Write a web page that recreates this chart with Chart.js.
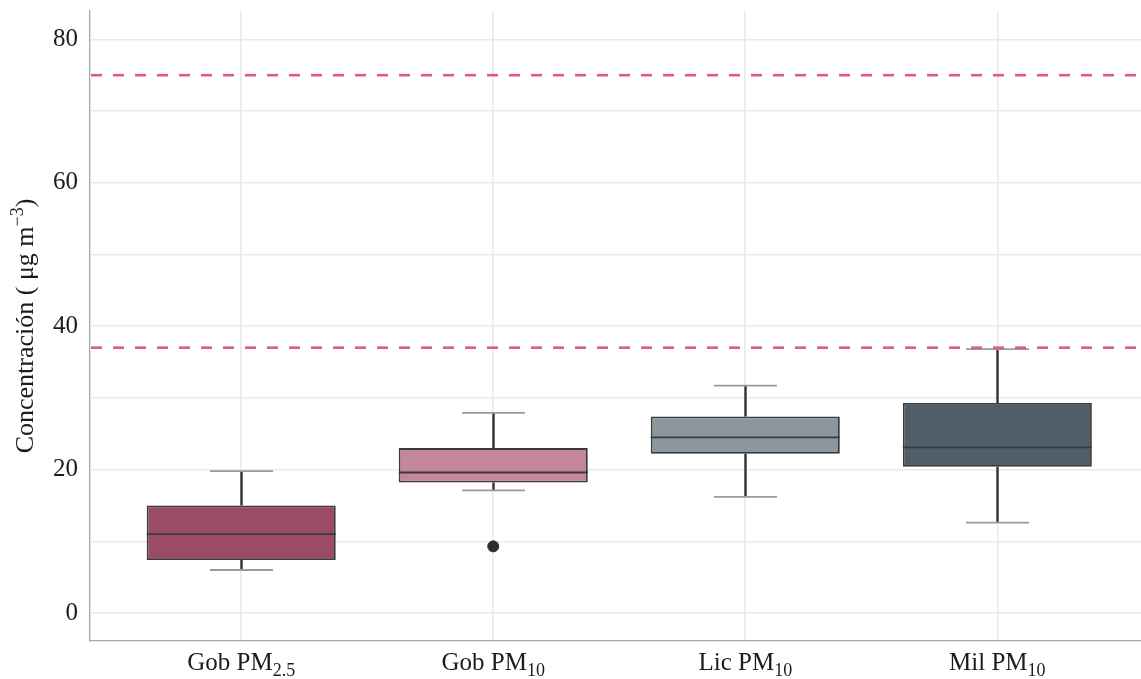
<!DOCTYPE html>
<html>
<head>
<meta charset="utf-8">
<script src="https://cdn.jsdelivr.net/npm/chart.js@4.4.0/dist/chart.umd.min.js"></script>
<style>
  html, body { margin: 0; padding: 0; background: #ffffff; overflow: hidden; }
  #wrap { width: 1141px; height: 679px; }
  #c { display: block; }
</style>
</head>
<body>
<div id="wrap"><canvas id="c" width="1141" height="679"></canvas></div>
<script>
// Station / pollutant groups
const sites = ['Gob', 'Gob', 'Lic', 'Mil'];
const fractions = ['2.5', '10', '10', '10'];

// Box-plot summaries (µg m⁻³)
const whiskerLow  = [6.0, 17.1, 16.2, 12.6];
const quartile1   = [7.4, 18.2, 22.2, 20.4];
const medians     = [11.0, 19.6, 24.5, 23.1];
const quartile3   = [15.0, 23.0, 27.4, 29.3];
const whiskerHigh = [19.8, 27.9, 31.7, 36.8];

// Points beyond the whiskers: group index and value
const outlierGroups = [1];
const outlierValues = [9.3];

// Guideline levels drawn as dashed lines
const guideLevels = [75, 37];

// Y grid values and which of them carry a label
const yGridValues = [0, 10, 20, 30, 40, 50, 60, 70, 80];
const yLabelValues = [0, 20, 40, 60, 80];

const boxColors = ['#9b4a68', '#c4869b', '#8b979e', '#505e69'];

const SERIF = '"Liberation Serif", "Times New Roman", serif';
const TEXT = '#1c1c1c';
const MAIN_PX = 25;
const SUB_PX = 18;

// Whiskers, caps and medians drawn on the chart's own scales
const boxParts = {
  id: 'boxParts',
  beforeDatasetsDraw(chart) {
    const { ctx, scales: { x, y } } = chart;
    const capHalf = (x.getPixelForValue(1) - x.getPixelForValue(0)) * 0.125;
    ctx.save();
    sites.forEach((_, i) => {
      const cx = Math.round(x.getPixelForValue(i)) + 0.5;
      // whisker stems
      ctx.strokeStyle = '#333333';
      ctx.lineWidth = 2.4;
      ctx.beginPath();
      ctx.moveTo(cx, y.getPixelForValue(whiskerLow[i]));
      ctx.lineTo(cx, y.getPixelForValue(quartile1[i]));
      ctx.moveTo(cx, y.getPixelForValue(quartile3[i]));
      ctx.lineTo(cx, y.getPixelForValue(whiskerHigh[i]));
      ctx.stroke();
      // caps
      ctx.strokeStyle = '#9a9a9a';
      ctx.lineWidth = 1.8;
      ctx.beginPath();
      [whiskerLow[i], whiskerHigh[i]].forEach(v => {
        const py = y.getPixelForValue(v);
        ctx.moveTo(cx - capHalf, py);
        ctx.lineTo(cx + capHalf, py);
      });
      ctx.stroke();
    });
    ctx.restore();
  },
  afterDatasetsDraw(chart) {
    const { ctx, scales: { y }, chartArea } = chart;
    const boxMeta = chart.getDatasetMeta(0);
    ctx.save();
    // medians
    ctx.strokeStyle = '#3a3a3a';
    ctx.lineWidth = 1.9;
    boxMeta.data.forEach((bar, i) => {
      const half = bar.width / 2;
      const py = y.getPixelForValue(medians[i]);
      ctx.beginPath();
      ctx.moveTo(bar.x - half, py);
      ctx.lineTo(bar.x + half, py);
      ctx.stroke();
    });
    // guideline levels
    ctx.strokeStyle = '#e05c7a';
    ctx.lineWidth = 2.6;
    ctx.setLineDash([11, 11]);
    guideLevels.forEach(v => {
      const py = y.getPixelForValue(v);
      ctx.beginPath();
      ctx.moveTo(chartArea.left + 1, py);
      ctx.lineTo(chartArea.right, py);
      ctx.stroke();
    });
    ctx.restore();
  },
  afterDraw(chart) {
    const { ctx, scales: { x }, chartArea } = chart;
    ctx.save();
    ctx.fillStyle = TEXT;
    ctx.textBaseline = 'alphabetic';
    ctx.textAlign = 'left';
    // category labels with subscripted fraction
    sites.forEach((site, i) => {
      const main = site + ' PM';
      const sub = fractions[i];
      ctx.font = MAIN_PX + 'px ' + SERIF;
      const wMain = ctx.measureText(main).width;
      ctx.font = SUB_PX + 'px ' + SERIF;
      const wSub = ctx.measureText(sub).width;
      const x0 = x.getPixelForValue(i) - (wMain + wSub) / 2;
      ctx.font = MAIN_PX + 'px ' + SERIF;
      ctx.fillText(main, x0, 670);
      ctx.font = SUB_PX + 'px ' + SERIF;
      ctx.fillText(sub, x0 + wMain, 676);
    });
    // y-axis title with superscript exponent
    const mainT = 'Concentración ( μg m';
    const supT = '−3';
    const endT = ')';
    ctx.font = '26px ' + SERIF;
    const w1 = ctx.measureText(mainT).width;
    const w3 = ctx.measureText(endT).width;
    ctx.font = '18px ' + SERIF;
    const w2 = ctx.measureText(supT).width;
    const total = w1 + w2 + w3;
    const cy = (chartArea.top + chartArea.bottom) / 2;
    ctx.translate(33, cy);
    ctx.rotate(-Math.PI / 2);
    let px = -total / 2;
    ctx.font = '26px ' + SERIF;
    ctx.fillText(mainT, px, 0);
    px += w1;
    ctx.font = '18px ' + SERIF;
    ctx.fillText(supT, px, -10);
    px += w2;
    ctx.font = '26px ' + SERIF;
    ctx.fillText(endT, px, 0);
    ctx.restore();
  }
};

const gridColor = '#e9e9e9';
const axisColor = '#a8a8a8';

function clearPadding(scale) {
  scale.paddingTop = 0;
  scale.paddingBottom = 0;
  scale.paddingLeft = 0;
  scale.paddingRight = 0;
}

new Chart(document.getElementById('c'), {
  type: 'bar',
  data: {
    datasets: [
      {
        label: 'IQR',
        data: sites.map((_, i) => ({ x: i, y: [quartile1[i], quartile3[i]] })),
        backgroundColor: boxColors,
        borderColor: '#3a3a3a',
        borderWidth: 1.8,
        borderSkipped: false,
        barPercentage: 0.75,
        categoryPercentage: 1.0
      },
      {
        type: 'scatter',
        label: 'Outliers',
        data: outlierGroups.map((g, k) => ({ x: g, y: outlierValues[k] })),
        backgroundColor: '#2e2e2e',
        borderColor: '#2e2e2e',
        pointRadius: 5.5,
        pointHoverRadius: 5.5
      }
    ]
  },
  options: {
    responsive: false,
    animation: false,
    events: [],
    layout: { autoPadding: false, padding: { top: 11, right: 0, left: 0, bottom: 0 } },
    plugins: {
      legend: { display: false },
      tooltip: { enabled: false },
      title: { display: false }
    },
    scales: {
      x: {
        type: 'linear',
        min: -0.6,
        max: 3.57,
        offset: false,
        afterBuildTicks: axis => { axis.ticks = sites.map((_, i) => ({ value: i })); },
        afterFit: scale => { scale.height = 38; clearPadding(scale); },
        ticks: { display: false },
        grid: { color: gridColor, lineWidth: 1.6, drawTicks: false, offset: false },
        border: { color: axisColor, width: 1.3 }
      },
      y: {
        min: -3.9,
        max: 83.95,
        afterBuildTicks: axis => { axis.ticks = yGridValues.map(v => ({ value: v })); },
        afterFit: scale => { scale.width = 90; clearPadding(scale); },
        ticks: {
          callback: v => (yLabelValues.includes(v) ? String(v) : ''),
          font: { family: SERIF, size: MAIN_PX },
          color: TEXT,
          padding: 12
        },
        grid: { color: gridColor, lineWidth: 1.6, drawTicks: false },
        border: { color: axisColor, width: 1.3 }
      }
    }
  },
  plugins: [boxParts]
});
</script>
</body>
</html>
